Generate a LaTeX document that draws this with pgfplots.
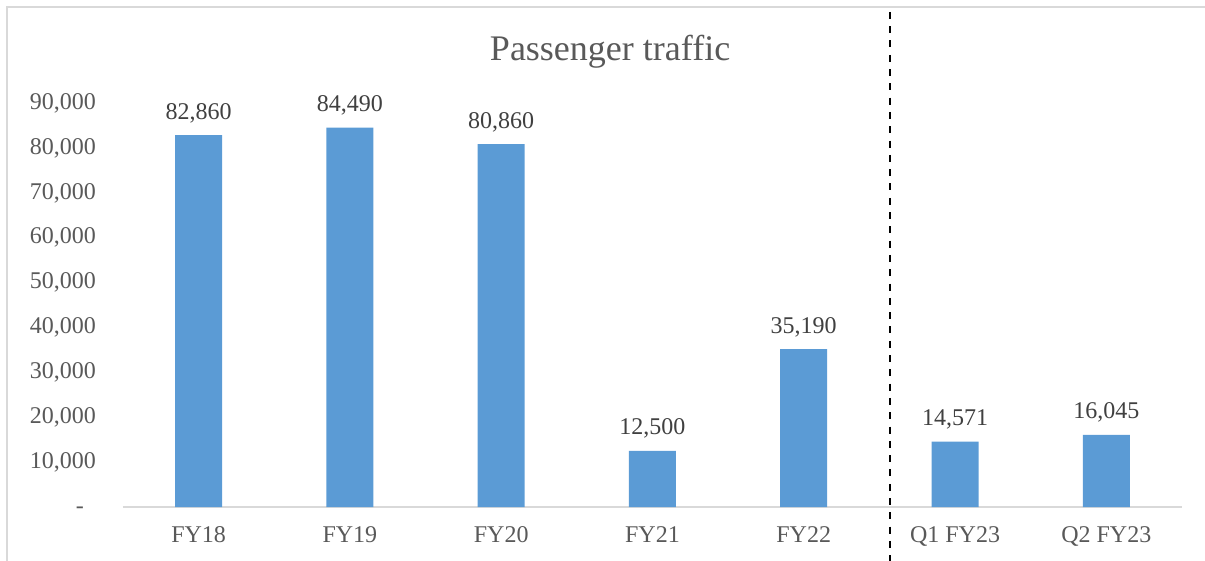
\documentclass[border=0pt]{standalone}
\usepackage{pgfplots}
\pgfplotsset{compat=1.18}
\usepackage{fontspec}
\setmainfont{Liberation Serif}
\definecolor{barblue}{HTML}{5B9BD5}
\definecolor{txtgray}{HTML}{595959}
\definecolor{lblgray}{HTML}{404040}
\definecolor{linegray}{HTML}{D9D9D9}
\begin{document}
\begin{tikzpicture}
\path[use as bounding box] (-123bp,-54bp) rectangle (1082bp,507bp);
\draw[linegray, line width=1.2bp] (-116bp,-80bp) rectangle (1110bp,500bp);
\begin{axis}[
  at={(0,0)}, anchor=south west,
  scale only axis, width=1059bp, height=404bp,
  clip=false,
  ymin=0, ymax=90000, xmin=-0.5, xmax=6.5,
  scaled y ticks=false,
  axis x line*=bottom, axis y line*=left,
  y axis line style={draw=none},
  x axis line style={draw=linegray, line width=1.6bp, -},
  tick style={draw=none},
  xtick={0,1,2,3,4,5,6},
  xticklabels={FY18,FY19,FY20,FY21,FY22,Q1 FY23,Q2 FY23},
  ytick={0,10000,20000,30000,40000,50000,60000,70000,80000,90000},
  yticklabels={{-\phantom{0}},{10,000},{20,000},{30,000},{40,000},{50,000},{60,000},{70,000},{80,000},{90,000}},
  xticklabel style={font=\fontsize{24bp}{28bp}\selectfont, text=txtgray, anchor=base, inner sep=0pt, yshift=-35bp},
  yticklabel style={font=\fontsize{24bp}{28bp}\selectfont, text=txtgray, anchor=mid east, inner sep=0pt, xshift=-27bp, yshift=-4bp},
  title={Passenger traffic},
  title style={font=\fontsize{36bp}{40bp}\selectfont, text=txtgray, anchor=base, inner sep=0pt, at={(0.46,1)}, yshift=37bp},
  /pgf/number format/assume math mode=true,
  /pgf/number format/fixed,
  /pgf/number format/1000 sep={,},
  nodes near coords,
  every node near coord/.append style={font=\fontsize{24bp}{28bp}\selectfont, text=lblgray, anchor=base, inner sep=0pt, yshift=16bp},
]
\addplot[ybar, bar width=47bp, fill=barblue, draw=none] coordinates {
  (0,82860) (1,84490) (2,80860) (3,12500) (4,35190) (5,14571) (6,16045)
};
\draw[black, line width=2bp, dash pattern=on 7bp off 7.3bp] (axis cs:4.57,110300) -- (axis cs:4.57,-13000);
\end{axis}
\end{tikzpicture}
\end{document}
